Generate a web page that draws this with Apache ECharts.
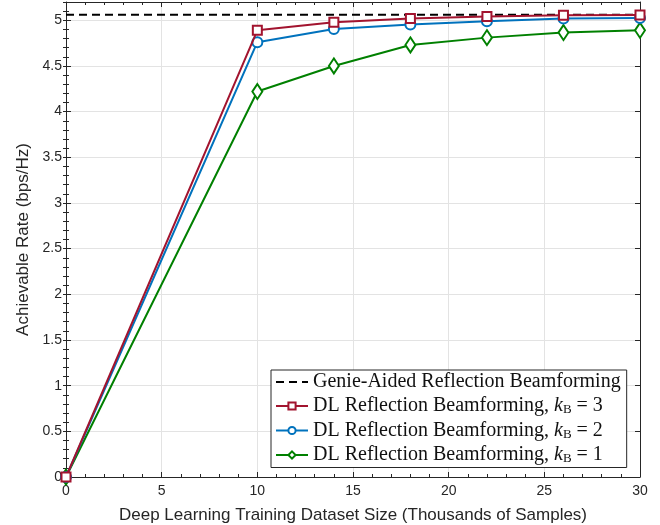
<!DOCTYPE html>
<html><head><meta charset="utf-8">
<script src="https://cdn.jsdelivr.net/npm/echarts@6/dist/echarts.min.js"></script>
<style>html,body{margin:0;padding:0;background:#fff}#c{width:660px;height:525px}</style>
</head><body><div id="c"></div>
<script>
const datasetSize = [0, 10, 14, 18, 22, 26, 30];
const genieRate = 5.06;
const rateK3 = [0, 4.89, 4.978, 5.02, 5.04, 5.054, 5.058];
const rateK2 = [0, 4.76, 4.905, 4.953, 4.99, 5.02, 5.025];
const rateK1 = [0, 4.22, 4.50, 4.73, 4.81, 4.865, 4.89];
const names = ['Genie-Aided Reflection Beamforming', 'DL Reflection Beamforming, k_B = 3', 'DL Reflection Beamforming, k_B = 2', 'DL Reflection Beamforming, k_B = 1'];

const pair = arr => datasetSize.map((x, i) => [x, arr[i]]);
const axisColor = '#262626';
const chart = echarts.init(document.getElementById('c'));
const baseX = {
  type: 'value', min: 0, max: 30, interval: 5,
  axisLine: {show: true, onZero: false, lineStyle: {color: axisColor, width: 1}},
  axisTick: {show: true, inside: true, length: 5, lineStyle: {color: axisColor}},
  minorTick: {show: true, splitNumber: 5, length: 3, lineStyle: {color: axisColor}},
};
const yMajor = {
  type: 'value', min: 0, max: 5.2, interval: 0.5,
  axisLine: {show: true, onZero: false, lineStyle: {color: axisColor, width: 1}},
  axisTick: {show: true, inside: true, length: 5, lineStyle: {color: axisColor}},
};
const yMinor = {
  type: 'value', min: 0, max: 5.2, interval: 0.1,
  axisLine: {show: false}, axisLabel: {show: false}, splitLine: {show: false},
  axisTick: {show: true, inside: true, length: 3, lineStyle: {color: axisColor}},
};
chart.setOption({
  animation: false,
  backgroundColor: '#fff',
  grid: {left: 66, right: 20, top: 2, bottom: 48, outerBoundsMode: 'none', containLabel: false},
  xAxis: [
    Object.assign({}, baseX, {
      position: 'bottom',
      name: 'Deep Learning Training Dataset Size (Thousands of Samples)',
      nameLocation: 'middle', nameGap: 30,
      nameTextStyle: {fontFamily: 'Liberation Sans', fontSize: 17, color: axisColor},
      axisLabel: {fontFamily: 'Liberation Sans', fontSize: 14, color: axisColor, margin: 7},
      splitLine: {show: true, lineStyle: {color: '#e3e3e3', width: 1}}
    }),
    Object.assign({}, baseX, {
      position: 'top', axisLabel: {show: false}, splitLine: {show: false}
    })
  ],
  yAxis: [
    Object.assign({}, yMajor, {
      position: 'left',
      name: 'Achievable Rate (bps/Hz)', nameLocation: 'middle', nameGap: 34,
      nameTextStyle: {fontFamily: 'Liberation Sans', fontSize: 17, color: axisColor},
      axisLabel: {fontFamily: 'Liberation Sans', fontSize: 14, color: axisColor, margin: 4, showMaxLabel: false},
      splitLine: {show: true, lineStyle: {color: '#e3e3e3', width: 1}}
    }),
    Object.assign({}, yMinor, {position: 'left'}),
    Object.assign({}, yMajor, {position: 'right', axisLabel: {show: false}, splitLine: {show: false}}),
    Object.assign({}, yMinor, {position: 'right'})
  ],
  legend: {
    orient: 'vertical', left: 271, top: 370,
    data: [
      {name: names[0], itemStyle: {opacity: 0}},
      names[1], names[2], names[3]
    ],
    backgroundColor: '#fff',
    borderColor: axisColor, borderWidth: 1, borderRadius: 0,
    padding: [2, 6, 2, 4],
    itemWidth: 32, itemHeight: 9, itemGap: 4,
    textStyle: {
      fontFamily: 'Liberation Serif', fontSize: 20, color: '#111',
      rich: {
        n: {fontFamily: 'Liberation Serif', fontSize: 20, color: '#111'},
        i: {fontFamily: 'Liberation Serif', fontSize: 20, fontStyle: 'italic', color: '#111'},
        s: {fontFamily: 'Liberation Serif', fontSize: 13, color: '#111', padding: [8, 0, 0, 0]}
      }
    },
    formatter: function (name) {
      const m = name.match(/^(.*), k_B = (\d)$/);
      if (!m) return '{n|' + name + '}';
      return '{n|' + m[1] + ', }{i|k}{s|B}{n| = ' + m[2] + '}';
    }
  },
  series: [
    {
      name: names[0], type: 'line', data: [[0, genieRate], [30, genieRate]],
      symbol: 'none', lineStyle: {color: '#000', width: 2, type: [8, 5]}, itemStyle: {color: 'rgba(0,0,0,0)'}, z: 2
    },
    {
      name: names[3], type: 'line', data: pair(rateK1), clip: false,
      symbol: 'diamond', symbolSize: [10, 15],
      lineStyle: {color: '#008000', width: 2}, itemStyle: {color: '#fff', borderColor: '#008000', borderWidth: 2}, z: 3
    },
    {
      name: names[2], type: 'line', data: pair(rateK2), clip: false,
      symbol: 'circle', symbolSize: 10,
      lineStyle: {color: '#0072BD', width: 2}, itemStyle: {color: '#fff', borderColor: '#0072BD', borderWidth: 2}, z: 4
    },
    {
      name: names[1], type: 'line', data: pair(rateK3), clip: false,
      symbol: 'rect', symbolSize: 9,
      lineStyle: {color: '#A2142F', width: 2}, itemStyle: {color: '#fff', borderColor: '#A2142F', borderWidth: 2}, z: 5
    }
  ]
});
</script></body></html>
